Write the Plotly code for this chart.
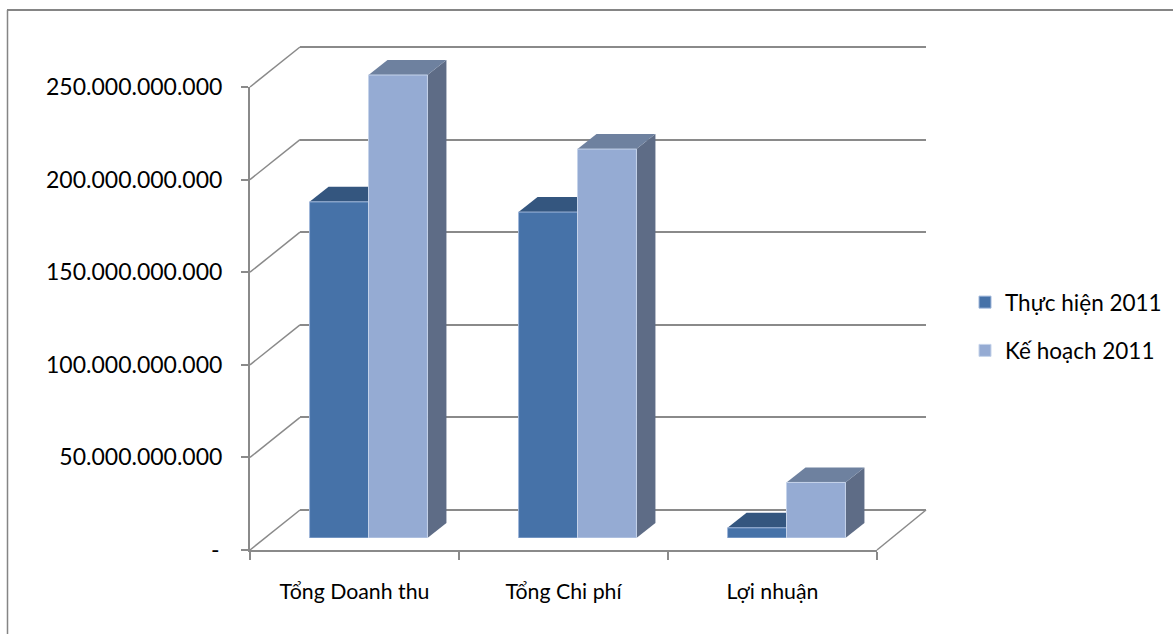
import plotly.graph_objects as go

# ---- data ----------------------------------------------------------------
categories = ["Tổng Doanh thu", "Tổng Chi phí", "Lợi nhuận"]
series_names = ["Thực hiện 2011", "Kế hoạch 2011"]
thuc_hien = [181.5e9, 176.0e9, 5.5e9]
ke_hoach = [250.0e9, 210.0e9, 30.0e9]
y_ticks = [0, 50e9, 100e9, 150e9, 200e9, 250e9]
y_tick_labels = ["-\u2009", "50.000.000.000", "100.000.000.000",
                 "150.000.000.000", "200.000.000.000", "250.000.000.000"]

# ---- geometry (pixels) of the three depth planes of the 3-D frame --------
W, H = 1173, 634
Y_MAX = 250e9
FRONT = dict(x0=250, x1=877, y0=550, y1=87)   # front edge: axis, ticks, labels
BARS = dict(x0=264, x1=891, y0=538, y1=75)    # plane of the column fronts
BACK = dict(x0=300, x1=926, y0=510, y1=47)    # back wall with gridlines
DEPTH_DX, DEPTH_DY = 19, 15                   # column extrusion
BAR_W = 0.282                                 # column width in category units
PAD = 3                                       # keeps end gridlines inside the wall
HEAD = 30                                     # room above the plane for column tops

FONT = "Lato, Carlito, 'Open Sans', sans-serif"
GRID = "#8a8a8a"
front_colors = ["#4672a8", "#95abd3"]
top_colors = ["#34567f", "#6e819f"]
side_colors = ["#2f4a6d", "#5e6c86"]
edge_colors = ["#9fb6da", "#c5d3ea"]


def xdom(p):
    return [p["x0"] / W, p["x1"] / W]


def ydom(p, pad_low=0, pad_high=0):
    return [1 - (p["y0"] + pad_low) / H, 1 - (p["y1"] - pad_high) / H]


def paper_y(p, v):
    return 1 - (p["y0"] - v / Y_MAX * (p["y0"] - p["y1"])) / H


fig = go.Figure()

# back wall subplot (gridlines only)
fig.add_trace(go.Scatter(x=[0.5], y=[0], mode="markers", marker=dict(opacity=0),
                         hoverinfo="skip", showlegend=False, xaxis="x", yaxis="y"))
# front subplot (axis lines, ticks and labels)
fig.add_trace(go.Scatter(x=categories, y=[0, 0, 0], mode="markers", marker=dict(opacity=0),
                         hoverinfo="skip", showlegend=False, xaxis="x2", yaxis="y2"))

# column fronts
series = [thuc_hien, ke_hoach]
offsets = [-BAR_W, 0.0]
xpos = list(range(len(categories)))
for i, vals in enumerate(series):
    fig.add_trace(go.Bar(
        x=xpos, y=vals, width=BAR_W, offset=offsets[i], name=series_names[i],
        marker=dict(color=front_colors[i], line=dict(color=edge_colors[i], width=1)),
        xaxis="x3", yaxis="y3", legendgroup=series_names[i],
        hovertemplate="%{y:,.0f}<extra>" + series_names[i] + "</extra>",
    ))

# column tops and right sides, in data units of the column plane
x_per_px = len(categories) / (BARS["x1"] - BARS["x0"])
y_per_px = Y_MAX / (BARS["y0"] - BARS["y1"])
ddx = DEPTH_DX * x_per_px
ddy = DEPTH_DY * y_per_px
shapes = []
for i, vals in enumerate(series):
    for j, v in enumerate(vals):
        xl = j + offsets[i]
        xr = xl + BAR_W
        top = (f"M{xl:.5f},{v:.1f} L{xl + ddx:.5f},{v + ddy:.1f} "
               f"L{xr + ddx:.5f},{v + ddy:.1f} L{xr:.5f},{v:.1f} Z")
        side = (f"M{xr:.5f},0 L{xr + ddx:.5f},{ddy:.1f} "
                f"L{xr + ddx:.5f},{v + ddy:.1f} L{xr:.5f},{v:.1f} Z")
        shapes.append(dict(type="path", path=side, xref="x3", yref="y3", layer="below",
                           fillcolor=side_colors[i], line=dict(width=0)))
        shapes.append(dict(type="path", path=top, xref="x3", yref="y3", layer="below",
                           fillcolor=top_colors[i], line=dict(width=0)))

# left wall: diagonals joining front ticks and back gridlines
for v in y_ticks:
    shapes.append(dict(type="line", xref="paper", yref="paper",
                       x0=FRONT["x0"] / W, y0=paper_y(FRONT, v),
                       x1=BACK["x0"] / W, y1=paper_y(BACK, v),
                       line=dict(color=GRID, width=1.5)))
# floor: right diagonal
shapes.append(dict(type="line", xref="paper", yref="paper",
                   x0=FRONT["x1"] / W, y0=paper_y(FRONT, 0),
                   x1=BACK["x1"] / W, y1=paper_y(BACK, 0),
                   line=dict(color=GRID, width=1.5)))
# chart area border (top and left edges)
shapes.append(dict(type="line", xref="paper", yref="paper", x0=7 / W, x1=1,
                   y0=1 - 10 / H, y1=1 - 10 / H, line=dict(color="#858585", width=2)))
shapes.append(dict(type="line", xref="paper", yref="paper", x0=7.5 / W, x1=7.5 / W,
                   y0=0, y1=1 - 10 / H, line=dict(color="#858585", width=1.5)))

back_ypp = Y_MAX / (BACK["y0"] - BACK["y1"])

fig.update_layout(
    template="none",
    width=W, height=H,
    margin=dict(l=0, r=0, t=0, b=0, autoexpand=False),
    paper_bgcolor="white", plot_bgcolor="rgba(0,0,0,0)",
    font=dict(family=FONT, color="black", size=21),
    barmode="overlay",
    showlegend=True,
    legend=dict(x=965 / W, y=1 - 281 / H, xanchor="left", yanchor="top",
                font=dict(size=22.5), tracegroupgap=16, bgcolor="rgba(0,0,0,0)",
                borderwidth=0),
    shapes=shapes,
    # back wall
    xaxis=dict(domain=xdom(BACK), range=[0, 1], visible=False, anchor="y",
               automargin=False),
    yaxis=dict(domain=ydom(BACK, PAD, PAD),
               range=[-PAD * back_ypp, Y_MAX + PAD * back_ypp],
               anchor="x", tickvals=y_ticks, showticklabels=False, ticks="",
               showgrid=True, gridcolor=GRID, gridwidth=2, zeroline=False,
               showline=False, automargin=False),
    # front edge
    xaxis2=dict(domain=xdom(FRONT), type="category", categoryarray=categories,
                categoryorder="array", range=[-0.5, 2.5], anchor="y2",
                tickson="boundaries", ticks="outside", ticklen=8, tickwidth=2,
                tickcolor=GRID, showline=True, linecolor=GRID, linewidth=2,
                showgrid=False, zeroline=False, tickfont=dict(size=21.3),
                ticklabelstandoff=21, automargin=False),
    yaxis2=dict(domain=ydom(FRONT), range=[0, Y_MAX], anchor="x2",
                tickvals=y_ticks, ticktext=y_tick_labels, ticks="outside",
                ticklen=7, tickwidth=2, tickcolor=GRID, showline=True,
                linecolor=GRID, linewidth=2, showgrid=False, zeroline=False,
                tickfont=dict(size=23), ticklabelstandoff=14, automargin=False),
    # column plane
    xaxis3=dict(domain=xdom(BARS), range=[-0.5, 2.5], visible=False, anchor="y3",
                automargin=False),
    yaxis3=dict(domain=ydom(BARS, 0, HEAD), range=[0, Y_MAX + HEAD * y_per_px],
                visible=False, anchor="x3", automargin=False),
)

fig.write_html("out.html")
